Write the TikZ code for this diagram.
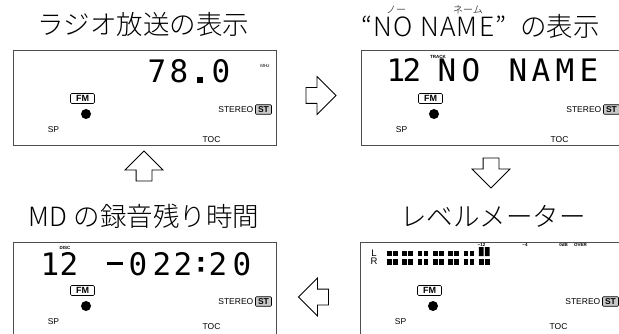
\documentclass[tikz,border=0pt]{standalone}
\usepackage{fontspec}
\setmainfont{Liberation Sans}
\newfontfamily\jpfont{Noto Sans CJK JP Light}
\newfontfamily\lcdfont{DejaVu Sans Mono}
\usetikzlibrary{calc,shapes.arrows}
\definecolor{PanelGray}{HTML}{4D4D4D}
\definecolor{StFill}{HTML}{C8C8C8}

\begin{document}
\begin{tikzpicture}[x=1pt,y=-1pt,
    every node/.style={inner sep=0pt},
    panel/.style={draw=PanelGray,line width=1.4pt,minimum width=263pt,minimum height=95pt,anchor=north west},
    title/.style={font=\jpfont\fontsize{26.5}{30}\selectfont,anchor=base},
    ruby/.style={font=\jpfont\fontsize{10}{12}\selectfont,anchor=base},
    lcd/.style={font=\lcdfont\fontsize{31}{34}\selectfont,anchor=base},
    tag/.style={font=\fontsize{8.5}{10}\selectfont},
    tiny/.style={font=\bfseries\fontsize{4.5}{5}\selectfont},
    fmbox/.style={draw,line width=0.6pt,rounded corners=1.2pt,minimum width=24pt,minimum height=10pt,font=\bfseries\fontsize{9}{10}\selectfont},
    stbox/.style={draw,line width=0.6pt,fill=StFill,rounded corners=1pt,minimum width=16pt,minimum height=9.5pt,font=\bfseries\fontsize{8.5}{10}\selectfont},
    seg/.style={fill=black},
    blockarrow/.style={single arrow,draw,fill=white,line width=0.8pt,inner sep=7.5pt,minimum height=30pt,single arrow head extend=11pt,single arrow head indent=0pt}
  ]
  \useasboundingbox (0,0) rectangle (619,334);
  \clip (0,0) rectangle (619,334);

  % four display panels with the common indicators
  \foreach \p/\px/\py/\ty in {radio/13/50/89.5,noname/361/50/89.5,remain/13/242/85,meter/360/242/85}{
    \node[panel] (\p) at (\px,\py) {};
    \node[fmbox] (\p-fm) at ($(\p.north west)+(69.5,48.5)$) {FM};
    \fill ($(\p.north west)+(73,64)$) circle (5);
    \node[tag] (\p-sp) at ($(\p.north west)+(40.5,79.5)$) {SP};
    \node[tag,anchor=east] (\p-stereo) at ($(\p.north west)+(240.5,59.5)$) {STEREO};
    \node[stbox] (\p-st) at ($(\p.north west)+(250.5,59.5)$) {ST};
    \node[tag] (\p-toc) at ($(\p.north west)+(198.5,\ty)$) {TOC};
  }

  % titles
  \node[title] (t-radio) at (143.5,34.5) {ラジオ放送の表示};
  \node[title,anchor=base west] (t-name) at (361,37) {\addfontfeature{LetterSpace=5}“NO NAME”};
  \node[title,anchor=base west] (t-disp) at (520,37) {の表示};
  \node[ruby] (r-no) at (396,14) {ノー};
  \node[ruby] (r-name) at (468,14) {ネーム};
  \node[title] (t-remain) at (144,226.5) {MD の録音残り時間};
  \node[title] (t-meter) at (493,226.5) {レベルメーター};

  % radio
  \foreach \ch/\cx in {7/157,8/179,0/221}
    \node[lcd] (radio-\cx) at (\cx,83) {\ch};
  \fill[seg] (196.5,77) rectangle (202.5,83);
  \node[tiny,font=\fontsize{4.5}{5}\selectfont] (radio-mhz) at (265,65.5) {MHz};

  % no name
  \foreach \ch/\cx in {1/396,2/412,N/447,O/471,N/518,A/541,M/565,E/589}
    \node[lcd] (noname-\cx) at (\cx,82) {\ch};
  \node[tiny] (noname-track) at (438,57) {TRACK};

  % remaining time
  \foreach \ch/\cx in {1/50,2/69,0/138,2/162,2/183,2/218,0/242}
    \node[lcd] (remain-\cx) at (\cx,275) {\ch};
  \fill[seg] (107,262) rectangle (123,265);
  \fill[seg] (198.5,257) rectangle (203,261.5) (198.5,267) rectangle (203,271.5);
  \node[tiny] (remain-disc) at (65,247.5) {DISC};

  % level meter
  \node[font=\fontsize{9.5}{10}\selectfont,anchor=base] (meter-l) at (374,256.5) {L};
  \node[font=\fontsize{9.5}{10}\selectfont,anchor=base] (meter-r) at (374,265) {R};
  \foreach \i in {0,...,5}{
    \fill[seg] (387+15.3*\i,250.5) rectangle +(4.7,5.5);
    \fill[seg] (393+15.3*\i,250.5) rectangle +(4.7,5.5);
  }
  \fill[seg] (478.8,247) rectangle +(4.7,9) (484.8,247) rectangle +(4.7,9);
  \foreach \i in {0,...,6}{
    \fill[seg] (387+15.3*\i,258.5) rectangle +(4.7,6.5);
    \fill[seg] (393+15.3*\i,258.5) rectangle +(4.7,6.5);
  }
  \node[tiny] (meter-m12) at (481.5,245) {−12};
  \node[tiny] (meter-m4) at (525,245) {−4};
  \node[tiny] (meter-0db) at (563.5,245) {0dB};
  \node[tiny] (meter-over) at (580.5,245) {OVER};

  % block arrows between the displays
  \node[blockarrow] (a-right) at (317,95.5) {};
  \node[blockarrow,shape border rotate=270] (a-down) at (491,169) {};
  \node[blockarrow,shape border rotate=180] (a-left) at (317.5,297) {};
  \node[blockarrow,shape border rotate=90] (a-up) at (144,170) {};
\end{tikzpicture}
\end{document}
